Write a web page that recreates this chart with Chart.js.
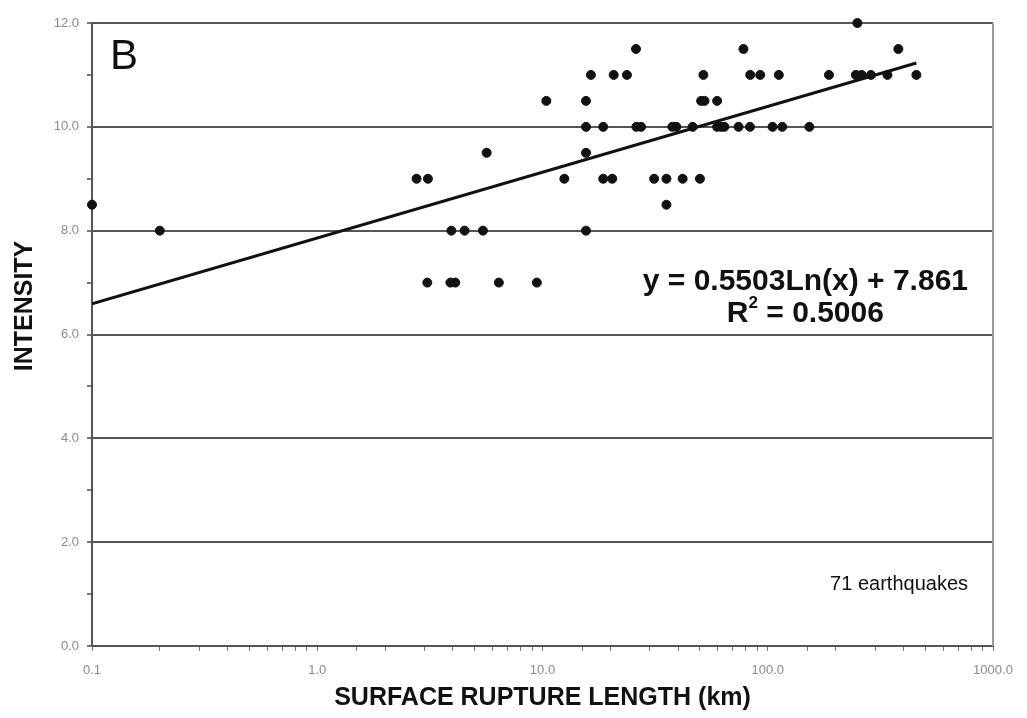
<!DOCTYPE html>
<html>
<head>
<meta charset="utf-8">
<title>Intensity vs surface rupture length</title>
<script src="https://cdn.jsdelivr.net/npm/chart.js@4.4.1/dist/chart.umd.min.js"></script>
<style>
    html, body { margin: 0; padding: 0; background: #fff; }
    #wrap { width: 1027px; height: 718px; }
</style>
</head>
<body>
<div id="wrap"><canvas id="chart" width="1027" height="718"></canvas></div>
<script>
// surface rupture length (km) and intensity
const quakeLength = [
    250,
    26, 78, 380,
    16.4, 20.7, 23.7, 51.8, 83.6, 92.6, 112, 187, 246, 261, 287, 340, 457,
    10.4, 15.6, 50.6, 52.4, 59.6,
    15.6, 18.6, 26.1, 27.4, 37.7, 39.3, 46.4, 59.6, 62.1, 64.2, 74.2, 83.4, 105, 116, 153,
    5.65, 15.6,
    2.76, 3.10, 12.5, 18.6, 20.4, 31.3, 35.5, 41.9, 50.0,
    0.1, 35.5,
    0.2, 3.94, 4.51, 5.44, 15.6,
    3.08, 3.9, 4.1, 6.40, 9.44
];
const quakeIntensity = [
    12,
    11.5, 11.5, 11.5,
    11, 11, 11, 11, 11, 11, 11, 11, 11, 11, 11, 11, 11,
    10.5, 10.5, 10.5, 10.5, 10.5,
    10, 10, 10, 10, 10, 10, 10, 10, 10, 10, 10, 10, 10, 10, 10,
    9.5, 9.5,
    9, 9, 9, 9, 9, 9, 9, 9, 9,
    8.5, 8.5,
    8, 8, 8, 8, 8,
    7, 7, 7, 7, 7
];

// log trendline end points
const trendLength = [0.1, 457];
const trendIntensity = [6.59, 11.23];

const xMajorTicks = [0.1, 1, 10, 100, 1000];
const yLabelStep = 2;

const equationText = "y = 0.5503Ln(x) + 7.861";
const rSquaredText = "0.5006";
const countText = "71 earthquakes";
const panelLetter = "B";

const FONT = "'Liberation Sans', Arial, sans-serif";

const annotations = {
    id: "annotations",
    afterDraw(chart) {
        const { ctx, chartArea } = chart;
        ctx.save();
        ctx.fillStyle = "#111";

        // right frame line
        ctx.strokeStyle = "#999";
        ctx.lineWidth = 2;
        ctx.beginPath();
        ctx.moveTo(chartArea.right, chartArea.top);
        ctx.lineTo(chartArea.right, chartArea.bottom);
        ctx.stroke();

        ctx.textBaseline = "alphabetic";
        ctx.font = "42px " + FONT;
        ctx.textAlign = "left";
        ctx.fillText(panelLetter, 110, 69);

        // equation, right aligned; R² centered beneath
        ctx.font = "bold 30px " + FONT;
        ctx.textAlign = "right";
        ctx.fillText(equationText, 968, 290);
        const eqW = ctx.measureText(equationText).width;
        const centerX = 968 - eqW / 2;

        const restText = " = " + rSquaredText;
        const rW = ctx.measureText("R").width;
        const restW = ctx.measureText(restText).width;
        ctx.font = "bold 17px " + FONT;
        const supW = ctx.measureText("2").width;
        const startX = centerX - (rW + supW + restW) / 2;
        ctx.textAlign = "left";
        ctx.font = "bold 30px " + FONT;
        ctx.fillText("R", startX, 322);
        ctx.font = "bold 17px " + FONT;
        ctx.fillText("2", startX + rW, 308);
        ctx.font = "bold 30px " + FONT;
        ctx.fillText(restText, startX + rW + supW, 322);

        ctx.font = "20px " + FONT;
        ctx.textAlign = "right";
        ctx.fillText(countText, 968, 590);

        // y axis title
        ctx.font = "bold 25px " + FONT;
        ctx.textAlign = "center";
        ctx.textBaseline = "middle";
        ctx.translate(25, 306);
        ctx.rotate(-Math.PI / 2);
        ctx.fillText("INTENSITY", 0, 0);
        ctx.restore();
    }
};

const isMajor = (v) => xMajorTicks.some(t => Math.abs(Math.log10(v) - Math.log10(t)) < 1e-6);

new Chart(document.getElementById("chart"), {
    type: "scatter",
    data: {
        datasets: [
            {
                type: "scatter",
                label: "Earthquakes",
                data: quakeLength.map((x, i) => ({ x, y: quakeIntensity[i] })),
                backgroundColor: "#111",
                borderColor: "#111",
                pointRadius: 4.5,
                pointHoverRadius: 4.5,
                clip: false
            },
            {
                type: "line",
                label: "Trend",
                data: trendLength.map((x, i) => ({ x, y: trendIntensity[i] })),
                borderColor: "#111",
                borderWidth: 3,
                pointRadius: 0,
                fill: false,
                tension: 0
            }
        ]
    },
    options: {
        responsive: false,
        animation: false,
        events: [],
        layout: { padding: { top: 23, right: 34, left: 0, bottom: 0 } },
        plugins: {
            legend: { display: false },
            tooltip: { enabled: false }
        },
        scales: {
            x: {
                type: "logarithmic",
                min: 0.1,
                max: 1000,
                afterFit: (scale) => { scale.height = 72; },
                border: { display: true, color: "#555", width: 2 },
                grid: {
                    drawOnChartArea: false,
                    drawTicks: true,
                    tickLength: 5,
                    color: "#777",
                    tickColor: "#777"
                },
                ticks: {
                    autoSkip: false,
                    maxRotation: 0,
                    padding: 12,
                    color: "#8a8a8a",
                    font: { family: FONT, size: 13 },
                    callback: (value) => isMajor(value) ? Number(value).toFixed(1) : ""
                },
                title: {
                    display: true,
                    text: "SURFACE RUPTURE LENGTH (km)",
                    color: "#111",
                    font: { family: FONT, size: 25, weight: "bold" },
                    padding: { top: 0, bottom: 5 }
                }
            },
            y: {
                min: 0,
                max: 12,
                afterFit: (scale) => { scale.width = 92; },
                border: { display: true, color: "#555", width: 2 },
                grid: {
                    drawTicks: true,
                    tickLength: 5,
                    lineWidth: 2,
                    color: (ctx) => ctx.tick && ctx.tick.value % yLabelStep === 0 ? "#555" : "rgba(0,0,0,0)",
                    tickColor: "#777"
                },
                ticks: {
                    stepSize: 1,
                    padding: 8,
                    color: "#8a8a8a",
                    font: { family: FONT, size: 13 },
                    callback: (value) => value % yLabelStep === 0 ? value.toFixed(1) : ""
                }
            }
        }
    },
    plugins: [annotations]
});
</script>
</body>
</html>
